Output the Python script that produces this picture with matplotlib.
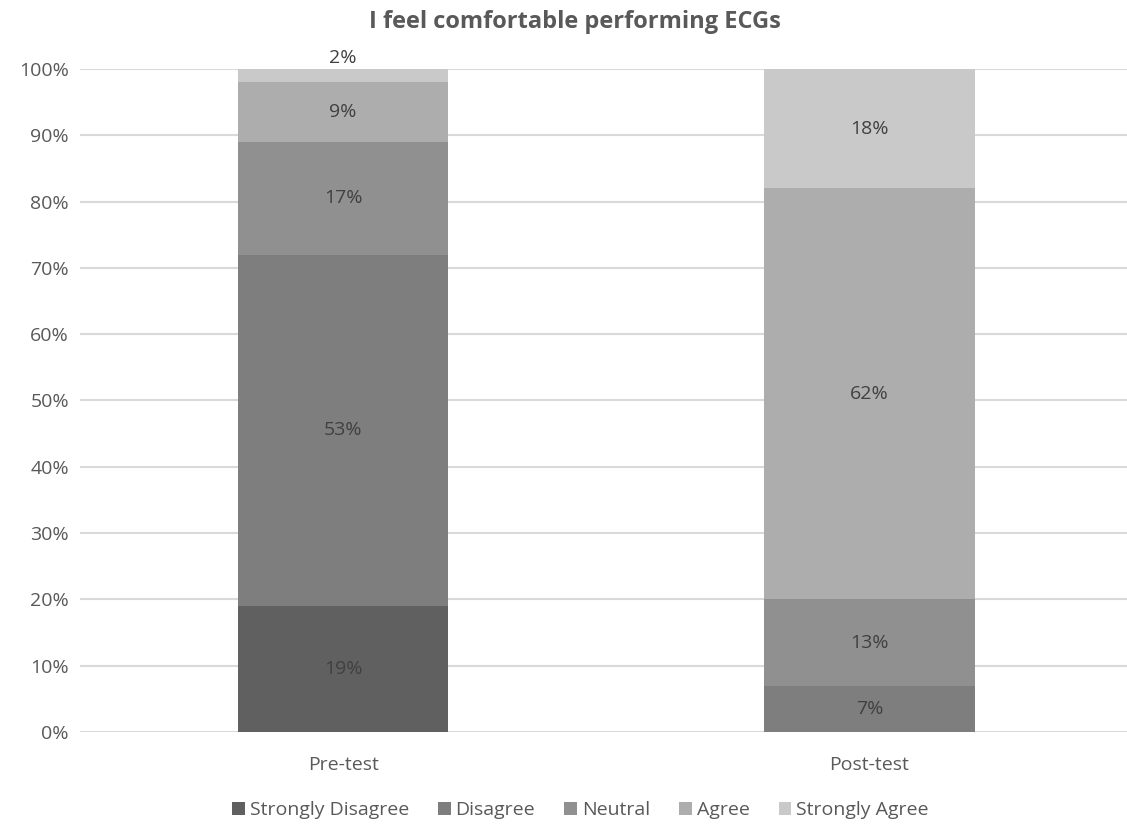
import numpy as np
import matplotlib.pyplot as plt

groups = ["Pre-test", "Post-test"]
levels = ["Strongly Disagree", "Disagree", "Neutral", "Agree", "Strongly Agree"]
pre_test = [19, 53, 17, 9, 2]
post_test = [0, 7, 13, 62, 18]
colors = ["#606060", "#7e7e7e", "#909090", "#adadad", "#c9c9c9"]

plt.rcParams['font.family'] = ['Open Sans', 'DejaVu Sans']

fig = plt.figure(figsize=(11.27, 8.25), dpi=100)
ax = fig.add_axes([0.071, 0.1127, 0.934, 0.8037])

x = np.arange(len(groups))
data = np.array([pre_test, post_test]).T
bottom = np.zeros(len(groups))
for i, name in enumerate(levels):
    vals = data[i]
    ax.bar(x, vals, width=0.4, bottom=bottom, color=colors[i], label=name, zorder=2)
    for j in range(len(groups)):
        if vals[j] == 0:
            continue
        ypos = bottom[j] + vals[j] / 2
        if vals[j] < 4:
            # too thin for the label, put it above the bar
            ypos = bottom[j] + vals[j] + 1.6
        ax.text(x[j], ypos, "%d%%" % vals[j], ha='center', va='center',
                fontsize=14, color="#404040")
    bottom += vals

ax.set_xlim(-0.5, 1.5)
ax.set_ylim(0, 100)
ax.set_yticks(np.arange(0, 101, 10))
ax.set_yticklabels(["%d%%" % v for v in range(0, 101, 10)])
ax.set_xticks(x)
ax.set_xticklabels(groups)
ax.yaxis.grid(True, color="#d9d9d9", linewidth=1.5, zorder=0)
ax.set_axisbelow(True)
for s in ax.spines.values():
    s.set_visible(False)
ax.tick_params(axis='both', length=0, labelsize=14, colors="#595959")
ax.tick_params(axis='x', pad=17)
ax.tick_params(axis='y', pad=8)

fig.text(0.51, 0.973, "I feel comfortable performing ECGs", fontsize=17,
         fontweight='bold', color="#595959", ha='center', va='center')

leg = fig.legend(loc='center', bbox_to_anchor=(0.515, 0.018), ncol=5, frameon=False,
                 fontsize=14, handlelength=0.65, handleheight=0.65,
                 handletextpad=0.25, columnspacing=1.5)
for t in leg.get_texts():
    t.set_color("#595959")

fig.savefig('out.png', dpi=100)
